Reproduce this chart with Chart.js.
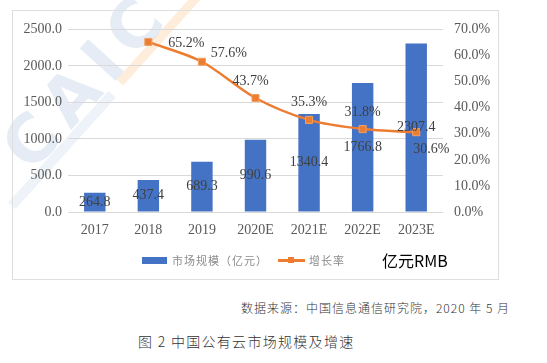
<!DOCTYPE html>
<html>
<head>
<meta charset="utf-8">
<script src="https://cdn.jsdelivr.net/npm/chart.js@4"></script>
<style>
  html, body { margin: 0; padding: 0; background: #fff; }
  body { width: 547px; height: 363px; position: relative; overflow: hidden; }
  .abs { position: absolute; }
  #frame { left: 12px; top: 10px; width: 485px; height: 268px; border: 1px solid #dedede; }
  #wrap { left: 12px; top: 10px; width: 487px; height: 270px; }
  .wm { font-family: "DejaVu Sans"; font-weight: bold; color: rgba(190, 208, 232, 0.4);
        transform: translate(-50%, -50%) rotate(-48deg); white-space: nowrap; }
  .lg { font-family: "Noto Sans CJK SC"; font-size: 11px; line-height: 12px; color: #8c8c8c; letter-spacing: 1px; }
  .cap { font-family: "Noto Sans CJK SC"; color: #333; white-space: nowrap; font-weight: 300; }
</style>
</head>
<body>
<!-- faint watermark behind the chart -->
<div class="abs wm" style="left:86px; top:80px; font-size:66px; letter-spacing:10px;">CAIC</div>
<div class="abs wm" style="left:160px; top:38px; width:120px; height:9px; background:rgba(255,196,140,0.3);"></div>
<div class="abs wm" style="left:62px; top:150px; width:150px; height:10px; background:rgba(200,215,235,0.3);"></div>

<div id="frame" class="abs"></div>
<div id="wrap" class="abs"><canvas id="chart"></canvas></div>

<!-- legend -->
<div class="abs" style="left:142px; top:257px; width:25px; height:7px; background:#4472c4;"></div>
<div class="abs lg" style="left:172px; top:254px;">市场规模（亿元）</div>
<div class="abs" style="left:278px; top:259px; width:27px; height:2.5px; background:#ed7d31;"></div>
<div class="abs" style="left:288px; top:257px; width:6px; height:6px; background:#ed7d31;"></div>
<div class="abs lg" style="left:309px; top:254px;">增长率</div>
<div class="abs cap" style="left:382px; top:251px; font-size:16px; line-height:18px; color:#000; font-weight:400;">亿元RMB</div>

<!-- captions -->
<div class="abs cap" style="right:37px; top:300px; font-size:12px; line-height:16px; letter-spacing:1px;">数据来源：中国信息通信研究院，2020 年 5 月</div>
<div class="abs cap" style="left:138px; top:332px; font-size:14px; line-height:18px; letter-spacing:1.3px;">图 2 中国公有云市场规模及增速</div>

<script>
const years = ['2017', '2018', '2019', '2020E', '2021E', '2022E', '2023E'];
const marketSize = [264.8, 437.4, 689.3, 990.6, 1340.4, 1766.8, 2307.4];
const growthRate = [null, 65.2, 57.6, 43.7, 35.3, 31.8, 30.6];

// where each growth label sits relative to its point
const rateLabelOffset = [null, [38, 1], [27, -8], [-5, -17], [0, -18], [0, -17], [15, 17]];

const serif = 'Liberation Serif';
const tickColor = '#595959';

const valueLabels = {
  id: 'valueLabels',
  afterDatasetsDraw(chart) {
    const ctx = chart.ctx;
    ctx.save();
    ctx.font = '14px "' + serif + '"';
    ctx.fillStyle = '#404040';
    ctx.textAlign = 'center';
    ctx.textBaseline = 'middle';
    chart.getDatasetMeta(1).data.forEach((bar, i) => {
      ctx.fillText(marketSize[i].toFixed(1), bar.x, (bar.y + bar.base) / 2);
    });
    chart.getDatasetMeta(0).data.forEach((pt, i) => {
      if (growthRate[i] == null) return;
      const off = rateLabelOffset[i];
      ctx.fillText(growthRate[i].toFixed(1) + '%', pt.x + off[0], pt.y + off[1]);
    });
    ctx.restore();
  }
};

new Chart(document.getElementById('chart'), {
  data: {
    labels: years,
    datasets: [
      {
        type: 'line',
        label: '增长率',
        data: growthRate,
        yAxisID: 'y1',
        order: 0,
        borderColor: '#ed7d31',
        borderWidth: 2.5,
        tension: 0.3,
        pointStyle: 'rect',
        pointRadius: 5,
        pointBackgroundColor: '#ed7d31',
        pointBorderColor: '#f2a064',
        pointBorderWidth: 1
      },
      {
        type: 'bar',
        label: '市场规模（亿元）',
        data: marketSize,
        yAxisID: 'y',
        order: 1,
        backgroundColor: '#4472c4',
        categoryPercentage: 1,
        barPercentage: 0.4
      }
    ]
  },
  options: {
    responsive: true,
    maintainAspectRatio: false,
    animation: false,
    layout: { padding: { top: 15 } },
    plugins: { legend: { display: false }, tooltip: { enabled: false } },
    scales: {
      x: {
        grid: { display: false, drawTicks: false },
        border: { display: false },
        ticks: { color: tickColor, font: { family: serif, size: 14 }, padding: 10 },
        afterFit(s) { s.height = 68; }
      },
      y: {
        position: 'left',
        min: 0, max: 2500,
        grid: { color: '#d9d9d9', drawTicks: false },
        border: { display: false },
        ticks: {
          stepSize: 500, padding: 6, color: tickColor,
          font: { family: serif, size: 14 },
          callback: v => v.toFixed(1)
        },
        afterFit(s) { s.width = 56; }
      },
      y1: {
        position: 'right',
        min: 0, max: 70,
        grid: { display: false, drawTicks: false },
        border: { display: false },
        ticks: {
          stepSize: 10, padding: 11, color: tickColor,
          font: { family: serif, size: 14 },
          callback: v => v.toFixed(1) + '%'
        },
        afterFit(s) { s.width = 56; }
      }
    }
  },
  plugins: [valueLabels]
});
</script>
</body>
</html>
